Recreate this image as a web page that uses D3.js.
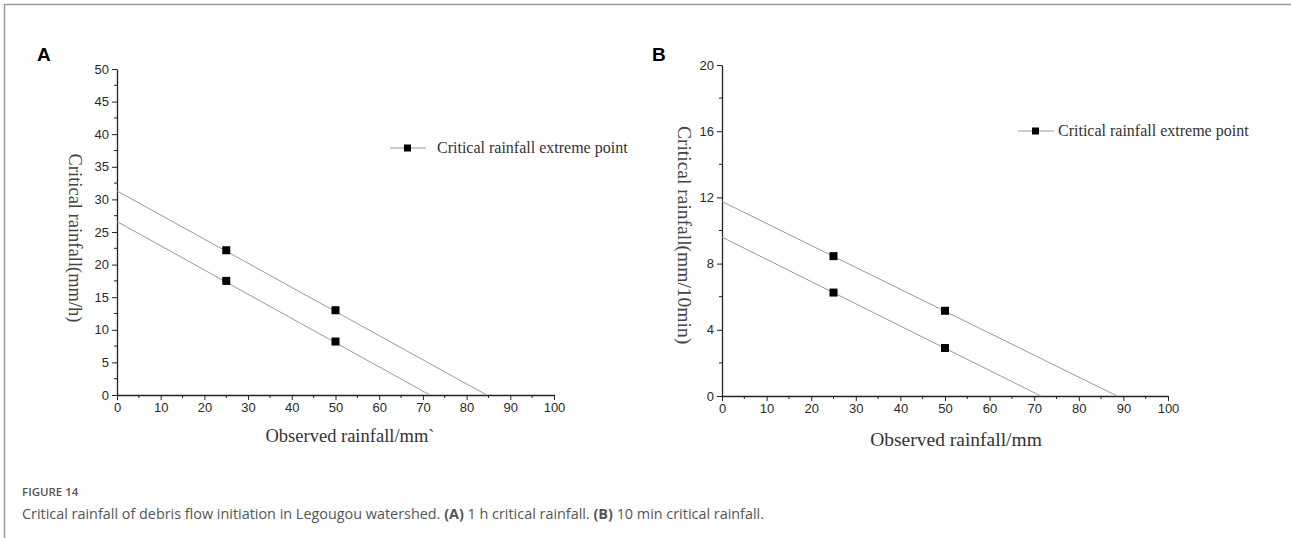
<!DOCTYPE html>
<html>
<head>
<meta charset="utf-8">
<script src="https://cdn.jsdelivr.net/npm/d3@7"></script>
<style>
  body { margin: 0; background: #fff; }
  svg { display: block; }
</style>
</head>
<body>
<div id="chart"></div>
<script>
(function(){

    const width = 1291;
    const height = 538;

    // panel A : 1 h critical rainfall
    const xTicksA = [0, 10, 20, 30, 40, 50, 60, 70, 80, 90, 100];
    const yTicksA = [0, 5, 10, 15, 20, 25, 30, 35, 40, 45, 50];
    const upperLineA = [[0, 31.3], [84.6, 0]];
    const lowerLineA = [[0, 26.6], [71.6, 0]];
    const upperPointsA = [[25, 22.2], [50, 13.0]];
    const lowerPointsA = [[25, 17.5], [50, 8.2]];

    // panel B : 10 min critical rainfall
    const xTicksB = [0, 10, 20, 30, 40, 50, 60, 70, 80, 90, 100];
    const yTicksB = [0, 4, 8, 12, 16, 20];
    const upperLineB = [[0, 11.75], [88.6, 0]];
    const lowerLineB = [[0, 9.6], [71.5, 0]];
    const upperPointsB = [[25, 8.45], [50, 5.15]];
    const lowerPointsB = [[25, 6.25], [50, 2.9]];

    const legendLabel = "Critical rainfall extreme point";

    const svg = d3.select("#chart")
        .append("svg")
        .attr("width", width)
        .attr("height", height);

    // frame lines (top + left)
    svg.append("line").attr("x1", 4).attr("x2", width).attr("y1", 4.5).attr("y2", 4.5)
        .attr("stroke", "#9a9a9a").attr("stroke-width", 1.5);
    svg.append("line").attr("x1", 4.5).attr("x2", 4.5).attr("y1", 4).attr("y2", height)
        .attr("stroke", "#9a9a9a").attr("stroke-width", 1.5);

    function drawPanel(opt){
        const g = svg.append("g");

        const x = d3.scaleLinear().domain([0, 100]).range(opt.xRange);
        const y = d3.scaleLinear().domain(opt.yDomain).range(opt.yRange);

        // minor ticks
        const xMinor = d3.range(5, 100, 10);
        const yMinor = d3.range(opt.yStep / 2, opt.yDomain[1], opt.yStep);

        const xAxis = d3.axisBottom(x).tickValues(opt.xTicks).tickSize(5).tickPadding(3).tickSizeOuter(0);
        const yAxis = d3.axisLeft(y).tickValues(opt.yTicks).tickSize(5).tickPadding(3).tickSizeOuter(0);

        const gx = g.append("g")
            .attr("transform", `translate(0,${opt.yRange[0]})`)
            .call(xAxis);
        const gy = g.append("g")
            .attr("transform", `translate(${opt.xRange[0]},0)`)
            .call(yAxis);

        gx.selectAll(".minor").data(xMinor).enter().append("line")
            .attr("x1", d => x(d)).attr("x2", d => x(d))
            .attr("y1", 0).attr("y2", 3)
            .attr("stroke", "#222");
        gy.selectAll(".minor").data(yMinor).enter().append("line")
            .attr("y1", d => y(d)).attr("y2", d => y(d))
            .attr("x1", 0).attr("x2", -3)
            .attr("stroke", "#222");

        [gx, gy].forEach(a => {
            a.select(".domain").attr("stroke", "#222").attr("stroke-width", 1.3);
            a.selectAll(".tick line").attr("stroke", "#222");
            a.selectAll(".tick text")
                .attr("fill", "#2a2a2a")
                .style("font-family", "'Liberation Sans', Arial, sans-serif")
                .style("font-size", "13px");
        });

        const line = d3.line().x(d => x(d[0])).y(d => y(d[1]));
        [opt.upperLine, opt.lowerLine].forEach(l => {
            g.append("path")
                .attr("d", line(l))
                .attr("fill", "none")
                .attr("stroke", "#999")
                .attr("stroke-width", 1);
        });

        const pts = opt.upperPoints.concat(opt.lowerPoints);
        g.selectAll(".pt").data(pts).enter().append("rect")
            .attr("x", d => x(d[0]) - 4)
            .attr("y", d => y(d[1]) - 4)
            .attr("width", 8)
            .attr("height", 8)
            .attr("fill", "#000");

        // axis titles
        g.append("text")
            .attr("x", opt.xTitleX)
            .attr("y", opt.yRange[0] + opt.xTitleDy)
            .attr("text-anchor", "middle")
            .style("font-family", "'Liberation Serif', 'Times New Roman', serif")
            .style("font-size", opt.xTitleSize + "px")
            .attr("fill", "#333")
            .text(opt.xTitle);

        g.append("text")
            .attr("transform", `translate(${opt.yTitleX},${opt.yTitleY}) rotate(90)`)
            .attr("text-anchor", "middle")
            .attr("dominant-baseline", "central")
            .style("font-family", "'Liberation Serif', 'Times New Roman', serif")
            .style("font-size", opt.yTitleSize + "px")
            .attr("fill", "#444")
            .text(opt.yTitle);

        // legend
        const lg = g.append("g").attr("transform", `translate(${opt.legend[0]},${opt.legend[1]})`);
        lg.append("line").attr("x1", 0).attr("x2", 36).attr("y1", 0).attr("y2", 0)
            .attr("stroke", "#999");
        lg.append("rect").attr("x", 14).attr("y", -3.5).attr("width", 7).attr("height", 7).attr("fill", "#000");
        lg.append("text")
            .attr("x", opt.legendTextDx)
            .attr("y", 4.5)
            .style("font-family", "'Liberation Serif', 'Times New Roman', serif")
            .style("font-size", "16px")
            .attr("fill", "#333")
            .text(legendLabel);

        // panel letter
        svg.append("text")
            .attr("x", opt.letterPos[0])
            .attr("y", opt.letterPos[1])
            .style("font-family", "'Liberation Sans', Arial, sans-serif")
            .style("font-weight", "bold")
            .style("font-size", "19px")
            .attr("fill", "#000")
            .text(opt.letter);
    }

    drawPanel({
        letter: "A", letterPos: [37, 61],
        xRange: [117, 554], yRange: [395, 69],
        yDomain: [0, 50], yStep: 5,
        xTicks: xTicksA, yTicks: yTicksA,
        upperLine: upperLineA, lowerLine: lowerLineA,
        upperPoints: upperPointsA, lowerPoints: lowerPointsA,
        xTitle: "Observed rainfall/mm`", xTitleX: 350, xTitleDy: 47, xTitleSize: 18.5,
        yTitle: "Critical rainfall(mm/h)", yTitleX: 75, yTitleY: 238, yTitleSize: 18.5,
        legend: [390, 148], legendTextDx: 47
    });

    drawPanel({
        letter: "B", letterPos: [652, 61],
        xRange: [722, 1168], yRange: [396, 65],
        yDomain: [0, 20], yStep: 4,
        xTicks: xTicksB, yTicks: yTicksB,
        upperLine: upperLineB, lowerLine: lowerLineB,
        upperPoints: upperPointsB, lowerPoints: lowerPointsB,
        xTitle: "Observed rainfall/mm", xTitleX: 956, xTitleDy: 50, xTitleSize: 19.5,
        yTitle: "Critical rainfall(mm/10min)", yTitleX: 684, yTitleY: 235, yTitleSize: 19.5,
        legend: [1018, 131], legendTextDx: 40
    });

    // caption
    svg.append("text")
        .attr("x", 22).attr("y", 496)
        .style("font-family", "'Open Sans', sans-serif")
        .style("font-size", "11.5px")
        .style("font-weight", "600")
        .attr("fill", "#555")
        .text("FIGURE 14");

    const cap = svg.append("text")
        .attr("x", 22).attr("y", 519)
        .style("font-family", "'Open Sans', sans-serif")
        .style("font-size", "14.4px")
        .attr("fill", "#555");
    cap.append("tspan").text("Critical rainfall of debris flow initiation in Legougou watershed. ");
    cap.append("tspan").style("font-weight", "bold").text("(A)");
    cap.append("tspan").text(" 1 h critical rainfall. ");
    cap.append("tspan").style("font-weight", "bold").text("(B)");
    cap.append("tspan").text(" 10 min critical rainfall.");

}());
</script>
</body>
</html>
